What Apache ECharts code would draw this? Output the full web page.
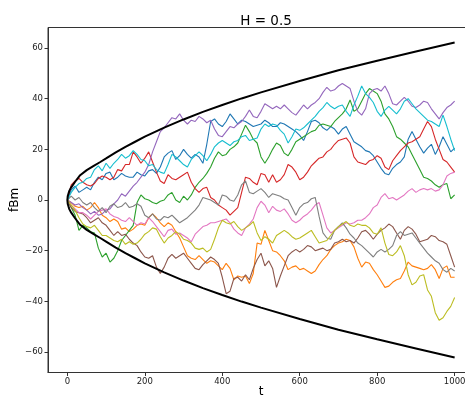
<!DOCTYPE html>
<html>
<head>
<meta charset="utf-8">
<script src="https://cdn.jsdelivr.net/npm/echarts@6/dist/echarts.min.js"></script>
<style>
html,body{margin:0;padding:0;background:#fff;}
#chart{width:465px;height:396px;}
</style>
</head>
<body>
<div id="chart"></div>
<script>
// time grid
const tGrid = [0,10,20,30,40,50,60,70,80,90,100,110,120,130,140,150,160,170,180,190,200,210,220,230,240,250,260,270,280,290,300,310,320,330,340,350,360,370,380,390,400,410,420,430,440,450,460,470,480,490,500,510,520,530,540,550,560,570,580,590,600,610,620,630,640,650,660,670,680,690,700,710,720,730,740,750,760,770,780,790,800,810,820,830,840,850,860,870,880,890,900,910,920,930,940,950,960,970,980,990,1000];

const blueVals = [0,4,5.5,3,4,5,4,7,9,8,10.5,11,8,9,10.5,9.5,9,9,11,10,9.5,11.5,12,10.5,13,17,18.5,19.5,16,17.5,20,18,16.5,18,17,14.5,22,31,32,30,29,31,34,32,30,31.5,31,30,29,29.5,30,31.5,30.5,29,29,30.5,30,29,28,27,25.5,23.5,27,31,31.5,30.5,28.5,27.5,29,28,26,28,29,26,23,22,21,19.5,19,17.5,15,12.5,10.5,10,12.5,14,15,17,24,27,24,21,18.5,20.5,22,18,21,25,22,19,20.5];
const orangeVals = [0,-1,-2.5,-3,-2.5,-4,-3,-1,-3,-6,-7,-8.5,-7.5,-8.5,-11.5,-11,-12.5,-11.5,-10,-9.5,-10,-7,-5.5,-7,-9,-10.5,-9,-10,-12.5,-15,-18.5,-22,-23,-23.5,-22,-23.5,-25,-24,-24.5,-26,-27.5,-25,-27,-31.5,-30,-30.5,-30,-33,-29,-17,-17.5,-12,-16,-20,-20.5,-22,-24,-27.5,-26.5,-26,-27.5,-27,-28,-29,-28,-25.5,-23.5,-22,-19.5,-18,-17,-16.5,-15.5,-16,-18.5,-23,-26.5,-24.5,-25,-27.5,-29.5,-32,-34.5,-34,-32.5,-31.5,-31,-28,-24.5,-26,-26.5,-27,-27.5,-27,-25.5,-27.5,-31,-27,-26,-30.5,-30.5];
const greenVals = [0,-3,-6,-12,-10,-11,-12.5,-13,-19,-22.5,-21,-24.5,-23,-20,-16,-14,-12,-10,-1,2,0.5,0,-1,-1.5,-0.5,0,2,3,0,-1,1.5,0,2,5,7,8.5,10.5,13,16.5,19,17.5,18,20,21,22.5,26,29.5,27,24,22.5,17,14.5,17,20,22.5,21.5,18.5,17.5,20,23,24,25,26,27,27.5,29.5,30,29.5,29,31,32.5,34,36,39.5,35,36,39,42,44,43,42,39,34,32,29,25,24,22.5,21,18,15,12,9,8.5,7.5,6,5,6,6.5,0.5,2];
const redVals = [0,6,7.5,8.5,7,6,5.5,6.5,8.5,9.5,9,8,9,12,11.5,14,14,19,17,14.5,16.5,19,15,11,7.5,6.5,10,8.5,8,9,10,11,7,4.5,3,4.5,5,1,0,-2,-3,-4,-6,-4.5,-3,3,9,8.5,7,6,10.5,10,7,10,7,8,10,14,13,11,8,9,11,13.5,15,16.5,17,19,20,22,23.5,24,24.5,22.5,17,15,14.5,14,15.5,16,17.5,16.5,13,12,15.5,17.5,19.5,21,22.5,23,24,25,28,31,29,24,20,16,15,13,11];
const purpleVals = [0,-1,-2,-1.5,-3,-4,-5.5,-4.5,-6,-5.5,-4,-3.5,-1.5,0,2.5,1.5,3.5,5.5,7,9,11,14,19,23,27,28.5,30.5,32.5,32,34,31.5,30,31.5,31,33,32,30.5,31.5,28,25.5,25,27,29,28.5,30,31,33,35.5,33,32.5,35,38,37,36,37,36,37.5,36,34.5,33.5,35.5,37.5,36,37.5,38.5,40,42.5,44.5,43,43.5,45,46,45,44,39,35,33.5,36,42,43.5,44,43,45,42,38,37.5,39,40.5,39,37,36.5,37.5,39,38.5,36,34,32,34.5,36.5,37.5,39];
const brownVals = [0,-3,-4.5,-5,-5.5,-7,-9,-8,-7,-9,-10,-12,-14,-12.5,-14,-13.5,-15.5,-17,-18,-20.5,-22.5,-23,-22,-26.5,-29,-26.5,-23,-21.5,-23,-22,-21,-23,-25,-27,-27.5,-25.5,-24,-22.5,-23.5,-25,-30.5,-37,-36,-31,-30.5,-32,-29.5,-31.5,-27,-23.5,-21,-26,-24,-27,-34.5,-30,-26,-22,-20.5,-19.5,-20.5,-19.5,-18,-18.5,-20,-19.5,-19,-20,-19.5,-17,-16.5,-15.5,-16.5,-16,-17,-15,-12.5,-12,-13.5,-15.5,-13.5,-12,-11,-9.5,-10.5,-13,-15.5,-12,-10.5,-11.5,-13.5,-16.5,-16,-15.5,-14,-14.5,-16,-16.5,-17.5,-22,-26.5];
const pinkVals = [0,-2,-3.5,-5,-5,-6,-7.5,-6,-4.5,-4,-3.5,-5.5,-6.5,-7,-8,-8.5,-7,-8.5,-10,-9,-9.5,-7,-8.5,-10.5,-12.5,-14.5,-12,-11.5,-13.5,-13,-14,-15,-16.5,-13.5,-12,-10.5,-10,-9,-9,-8.5,-8,-7.5,-9,-11.5,-13,-14,-11,-9.5,-7.5,-3,-0.5,-2,-5,-2.5,-4,-4.5,-3.5,-5.5,-8,-9,-8,-6.5,-5.5,-4,-2,-1,-6,-11,-13,-12,-11,-10,-9,-9.5,-9,-8,-8,-7,-5.5,-3,-2,1,2.5,0.5,1,0,1,2,3.5,4.5,3,4,4.5,4,4.5,3.5,4,6,9.5,10.5,11];
const grayVals = [0,1.5,0,1,-1,-2,-1,-3,-4.5,-3,-5,-2.5,-1.5,-3,-2.5,-1,-3,-2.5,-1.5,-2.5,-6,-7,-5.5,-7.5,-8,-6.5,-7,-6,-7.5,-9,-8,-7,-5.5,-4,-2,1,0.5,0,-1,-2,2,1.5,0,-0.5,2,6,7.5,3,2.5,3.5,4.5,3,1,2.5,2,1.5,0.5,0,-3,-6,-3,-1.5,-1,0.5,1,-6.5,-13,-15,-15.5,-12,-10.5,-9,-11,-13.5,-15,-17,-18,-19.5,-21,-22.5,-20.5,-19.5,-20.5,-19.5,-18,-14,-12.5,-14,-13.5,-13,-15,-17,-19,-21,-22.5,-24,-25,-27.5,-28.5,-27,-28];
const oliveVals = [0,-2,-4,-7,-9.5,-10.5,-11,-10,-12,-14,-14,-15,-16,-16.5,-15.5,-17.5,-16.5,-17.5,-17,-15.5,-13.5,-12.5,-11,-11.5,-14.5,-17,-15,-14,-12.5,-13.5,-15.5,-16,-17,-19,-19.5,-19,-20.5,-19.5,-15.5,-11,-8,-9,-9.5,-8.5,-10.5,-12,-11,-10,-8.5,-13,-16,-14.5,-15.5,-17,-14,-13,-12,-13,-14.5,-15.5,-15,-14,-13,-12,-14.5,-17,-16.5,-16,-14,-12,-10.5,-9.5,-8.5,-10,-10.5,-9.5,-10,-10,-11,-13,-13.5,-11,-17,-21.5,-22,-20.5,-18,-22,-29.5,-33.5,-32.5,-30,-29.5,-35.5,-38,-44.5,-47.5,-46.5,-44,-42,-38.5];
const cyanVals = [0,3,5,6.5,7,8.5,9,12,13.5,11.5,14.5,12.5,14.5,16,18,16.5,17.5,19.5,18,16,15.5,13.5,14,12,11,10.5,14,18,17,15.5,14,13,16,17.5,19,17.5,15.5,18,21,22.5,23.5,22.5,21.5,23,23.5,25,25.5,23.5,24,24.5,28,30,29,30,29.5,27.5,26,22.5,25,28,27.5,28.5,30,31.5,33,35,36.5,38.5,37,36,37,37.5,35,33,37.5,41,45,42,40.5,38.5,35,33,35.5,37,35.5,34,36,39,40,38,36,34.5,33,31.5,31,30,29,33.5,29,24,19.5];

// envelope
const envT = [0,1,2,5,10,20,33,50,68,85,100,125,150,175,200,250,300,350,400,450,500,600,700,800,900,1000];
const envUpper = [0,1.6,2.3,3.6,5,7.2,9.8,11.8,13.5,15,16.4,18.8,21,23,25,28.6,31.8,34.8,37.5,40.1,42.5,47,51.2,55,58.6,62.2];
const envLower = [0,-1.6,-2.3,-3.6,-5,-7.2,-9.8,-11.8,-13.5,-15,-16.4,-18.8,-21,-23,-25,-28.6,-31.8,-34.8,-37.5,-40.1,-42.5,-47,-51.2,-55,-58.6,-62.2];

const xTicks = [0,200,400,600,800,1000];
const yTicks = [-60,-40,-20,0,20,40,60];

const pathSeries = [
  ['blue', blueVals, '#1f77b4'],
  ['orange', orangeVals, '#ff7f0e'],
  ['green', greenVals, '#2ca02c'],
  ['red', redVals, '#d62728'],
  ['purple', purpleVals, '#9467bd'],
  ['brown', brownVals, '#8c564b'],
  ['pink', pinkVals, '#e377c2'],
  ['gray', grayVals, '#7f7f7f'],
  ['olive', oliveVals, '#bcbd22'],
  ['cyan', cyanVals, '#17becf']
];

const FONT = 'DejaVu Sans';
const minusFmt = v => (v < 0 ? '\u2212' + (-v) : String(v));

const series = pathSeries.map(([name, vals, color]) => ({
  name, type: 'line', showSymbol: false, symbol: 'none',
  data: tGrid.map((x, i) => [x, vals[i]]),
  lineStyle: { color, width: 1.1 },
  itemStyle: { color },
  silent: true
}));
series.push({
  name: 'upper', type: 'line', showSymbol: false, symbol: 'none',
  data: envT.map((x, i) => [x, envUpper[i]]),
  lineStyle: { color: '#000', width: 2 }, silent: true
});
series.push({
  name: 'lower', type: 'line', showSymbol: false, symbol: 'none',
  data: envT.map((x, i) => [x, envLower[i]]),
  lineStyle: { color: '#000', width: 2 }, silent: true
});

const chart = echarts.init(document.getElementById('chart'), null, { renderer: 'canvas' });
chart.setOption({
  animation: false,
  backgroundColor: '#fff',
  textStyle: { fontFamily: FONT },
  title: {
    text: 'H = 0.5', left: 261, top: 9, textAlign: 'center',
    textStyle: { fontFamily: FONT, fontSize: 13.5, fontWeight: 'normal', color: '#000' }
  },
  grid: {
    left: 48, top: 27.5, right: -9, bottom: 23.5,
    containLabel: false, outerBoundsMode: 'none',
    show: true, borderColor: '#333', borderWidth: 1, backgroundColor: 'transparent'
  },
  xAxis: {
    type: 'value', min: -50, max: 1050,
    name: 't', nameLocation: 'middle', nameGap: 13, nameMoveOverlap: false,
    nameTextStyle: { fontFamily: FONT, fontSize: 12, color: '#000' },
    axisLine: { show: true, onZero: false, lineStyle: { color: '#333', width: 1 } },
    axisTick: { show: true, length: 3.5, customValues: xTicks, lineStyle: { color: '#333' } },
    axisLabel: { customValues: xTicks, fontFamily: FONT, fontSize: 8.5, color: '#222', margin: 4.5, formatter: minusFmt },
    splitLine: { show: false }
  },
  yAxis: {
    type: 'value', min: -68.1, max: 68.1,
    name: 'fBm', nameLocation: 'middle', nameGap: 27, nameMoveOverlap: false,
    nameTextStyle: { fontFamily: FONT, fontSize: 12, color: '#000' },
    axisLine: { show: true, onZero: false, lineStyle: { color: '#333', width: 1 } },
    axisTick: { show: true, length: 3.5, customValues: yTicks, lineStyle: { color: '#333' } },
    axisLabel: { customValues: yTicks, fontFamily: FONT, fontSize: 8.5, color: '#222', margin: 5, formatter: minusFmt },
    splitLine: { show: false }
  },
  series
});
</script>
</body>
</html>
